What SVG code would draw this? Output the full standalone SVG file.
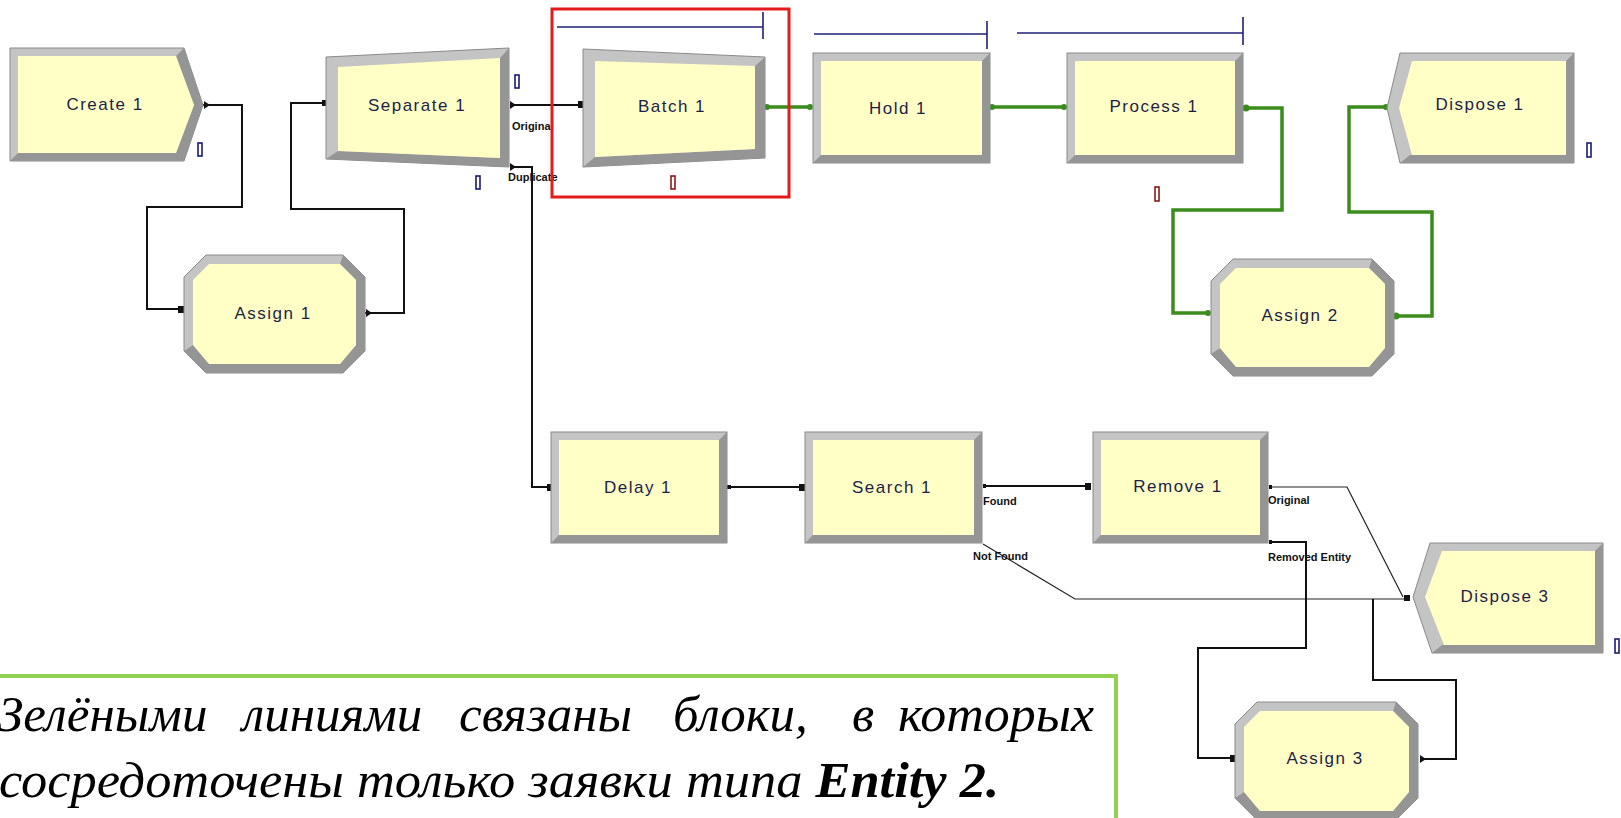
<svg xmlns="http://www.w3.org/2000/svg" width="1621" height="818" viewBox="0 0 1621 818">
<style>
.lt{fill:#c4c4c4;stroke:#8a8a8a;stroke-width:1}
.dk{fill:#959595}
.in{fill:#ffffc6}
.lbl{font-family:"Liberation Sans",Arial,sans-serif;font-size:17px;fill:#1e1e46;text-anchor:middle;letter-spacing:1.5px}
.sm{font-family:"Liberation Sans",Arial,sans-serif;font-size:11px;font-weight:bold;fill:#111}
.cb{fill:none;stroke:#111;stroke-width:2}
.ct{fill:none;stroke:#222;stroke-width:1.2}
.cg{fill:none;stroke:#3a8c1c;stroke-width:3.5}
.pin{fill:#111}
.gpin{fill:#3a8c1c}
.qb{fill:none;stroke:#1a1a7a;stroke-width:1.6}
.qr{fill:none;stroke:#8b1a1a;stroke-width:1.6}
.tl{fill:none;stroke:#1f1f7a;stroke-width:1.6}
.body{font-family:"Liberation Serif","Times New Roman",serif;font-style:italic;font-size:51px;fill:#000}
</style>
<rect x="0" y="0" width="1621" height="818" fill="#fff"/>

<g id="connectors">
  <polyline class="cb" points="203,105 242,105 242,207 147,207 147,309 182,309"/>
  <polyline class="cb" points="365,313 404,313 404,209 291,209 291,103 326,103"/>
  <polyline class="cb" points="510,105 582,105"/>
  <polyline class="cb" points="510,167 532,167 532,487 550,487"/>
  <polyline class="cg" points="765,107 812,107"/>
  <polyline class="cg" points="990,107 1066,107"/>
  <polyline class="cg" points="1244,108 1282,108 1282,210 1173,210 1173,313 1210,313"/>
  <polyline class="cg" points="1394,316 1432,316 1432,212 1349,212 1349,107 1388,107"/>
  <polyline class="cb" points="727,487 802,487"/>
  <polyline class="cb" points="983,486 1088,486"/>
  <polyline class="ct" points="983,544 1075,599 1410,599"/>
  <polyline class="ct" points="1270,487 1347,487 1403,597"/>
  <polyline class="cb" points="1270,542 1306,542 1306,648 1198,648 1198,758 1233,758"/>
  <polyline class="cb" points="1420,759 1456,759 1456,680 1373,680 1373,599"/>
  <path class="pin" d="M204,101 l6,4 l-6,4z"/>
  <rect class="pin" x="178" y="306" width="6" height="7"/>
  <path class="pin" d="M366,309 l6,4 l-6,4z"/>
  <rect class="pin" x="322" y="100" width="5" height="6"/>
  <path class="pin" d="M510,101 l6,4 l-6,4z"/>
  <rect class="pin" x="578" y="101" width="6" height="7"/>
  <path class="pin" d="M510,163 l6,4 l-6,4z"/>
  <rect class="pin" x="547" y="484" width="6" height="7"/>
  <rect class="pin" x="727" y="485" width="4" height="4"/>
  <rect class="pin" x="799" y="484" width="6" height="7"/>
  <rect class="pin" x="983" y="484" width="3" height="4"/>
  <rect class="pin" x="1085" y="483" width="6" height="7"/>
  <rect class="pin" x="1269" y="485" width="3" height="4"/>
  <rect class="pin" x="1269" y="540" width="3" height="4"/>
  <rect class="pin" x="1230" y="755" width="6" height="7"/>
  <path class="pin" d="M1420,755 l6,4 l-6,4z"/>
  <rect class="pin" x="1404" y="595" width="6" height="6"/>
  <ellipse class="gpin" cx="767" cy="107" rx="3" ry="3"/>
  <ellipse class="gpin" cx="810" cy="107" rx="3" ry="3"/>
  <ellipse class="gpin" cx="992" cy="107" rx="3" ry="3"/>
  <ellipse class="gpin" cx="1064" cy="107" rx="3" ry="3"/>
  <ellipse class="gpin" cx="1246" cy="108" rx="3.5" ry="3.5"/>
  <ellipse class="gpin" cx="1208" cy="313" rx="3" ry="3"/>
  <ellipse class="gpin" cx="1396" cy="316" rx="3.5" ry="3.5"/>
  <ellipse class="gpin" cx="1386" cy="107" rx="3" ry="3"/>
  <text class="sm" x="512" y="130">Original</text>
  <text class="sm" x="508" y="181">Duplicate</text>
  <text class="sm" x="983" y="505">Found</text>
  <text class="sm" x="973" y="560">Not Found</text>
  <text class="sm" x="1268" y="504">Original</text>
  <text class="sm" x="1268" y="561">Removed Entity</text>
</g>

<g id="create1">
  <polygon class="lt" points="10,48 184,48 203,105 184,161 10,161"/>
  <polygon class="dk" points="184,48 203,105 184,161 10,161 18,153 176,153 194,105 176,56"/>
  <polygon class="in" points="18,56 176,56 194,105 176,153 18,153"/>
  <text class="lbl" x="105" y="110">Create 1</text>
  <rect class="qb" x="198" y="143" width="4" height="13"/>
</g>

<g id="assign1">
  <polygon class="lt" points="206,255 343,255 365,277 365,351 343,373 206,373 184,351 184,277"/>
  <polygon class="dk" points="343,255 365,277 365,351 343,373 206,373 184,351 193,345 209,364 340,364 356,345 356,280 340,264"/>
  <polygon class="in" points="209,264 340,264 356,280 356,345 340,364 209,364 193,345 193,280"/>
  <text class="lbl" x="273" y="319">Assign 1</text>
</g>

<g id="separate1">
  <polygon class="lt" points="326,57 509,48 509,167 326,159"/>
  <polygon class="dk" points="509,48 509,167 326,159 338,151 500,158 500,58"/>
  <polygon class="in" points="338,67 500,58 500,158 338,151"/>
  <text class="lbl" x="417" y="111">Separate 1</text>
  <rect class="qb" x="515" y="75" width="4" height="13"/>
  <rect class="qb" x="476" y="176" width="4" height="13"/>
</g>

<g id="batch1">
  <rect x="552" y="9" width="237" height="188" fill="none" stroke="#e31b1b" stroke-width="3"/>
  <polyline class="tl" points="557,27 763,27"/>
  <polyline class="tl" points="763,12 763,39"/>
  <polygon class="lt" points="583,49 765,57 765,158 583,167"/>
  <polygon class="dk" points="765,57 765,158 583,167 595,157 755,149 755,66"/>
  <polygon class="in" points="595,61 755,66 755,149 595,157"/>
  <text class="lbl" x="672" y="112">Batch 1</text>
  <rect class="qr" x="671" y="176" width="4" height="13"/>
</g>

<g id="hold1">
  <polyline class="tl" points="814,34 987,34"/>
  <polyline class="tl" points="987,21 987,49"/>
  <rect class="lt" x="813" y="53" width="177" height="110"/>
  <polygon class="dk" points="990,53 990,163 813,163 821,155 982,155 982,61"/>
  <rect class="in" x="821" y="61" width="161" height="94"/>
  <text class="lbl" x="898" y="114">Hold 1</text>
</g>

<g id="process1">
  <polyline class="tl" points="1017,33 1243,33"/>
  <polyline class="tl" points="1243,17 1243,45"/>
  <rect class="lt" x="1067" y="53" width="176" height="110"/>
  <polygon class="dk" points="1243,53 1243,163 1067,163 1075,155 1235,155 1235,61"/>
  <rect class="in" x="1075" y="61" width="160" height="94"/>
  <text class="lbl" x="1154" y="112">Process 1</text>
  <rect class="qr" x="1155" y="187" width="4" height="14"/>
</g>

<g id="assign2">
  <polygon class="lt" points="1233,259 1372,259 1394,281 1394,354 1372,376 1233,376 1211,354 1211,281"/>
  <polygon class="dk" points="1372,259 1394,281 1394,354 1372,376 1233,376 1211,354 1220,348 1236,367 1369,367 1385,348 1385,284 1369,268"/>
  <polygon class="in" points="1236,268 1369,268 1385,284 1385,348 1369,367 1236,367 1220,348 1220,284"/>
  <text class="lbl" x="1300" y="321">Assign 2</text>
</g>

<g id="dispose1">
  <polygon class="lt" points="1400,53 1574,53 1574,163 1400,163 1387,108"/>
  <polygon class="dk" points="1574,53 1574,163 1400,163 1410,155 1566,155 1566,61"/>
  <polygon class="in" points="1412,61 1566,61 1566,155 1412,155 1399,108"/>
  <text class="lbl" x="1480" y="110">Dispose 1</text>
  <rect class="qb" x="1587" y="143" width="4" height="14"/>
</g>

<g id="delay1">
  <rect class="lt" x="551" y="432" width="176" height="111"/>
  <polygon class="dk" points="727,432 727,543 551,543 559,535 719,535 719,440"/>
  <rect class="in" x="559" y="440" width="160" height="95"/>
  <text class="lbl" x="638" y="493">Delay 1</text>
</g>

<g id="search1">
  <rect class="lt" x="805" y="432" width="177" height="111"/>
  <polygon class="dk" points="982,432 982,543 805,543 813,535 974,535 974,440"/>
  <rect class="in" x="813" y="440" width="161" height="95"/>
  <text class="lbl" x="892" y="493">Search 1</text>
</g>

<g id="remove1">
  <rect class="lt" x="1093" y="432" width="175" height="111"/>
  <polygon class="dk" points="1268,432 1268,543 1093,543 1101,535 1260,535 1260,440"/>
  <rect class="in" x="1101" y="440" width="159" height="95"/>
  <text class="lbl" x="1178" y="492">Remove 1</text>
</g>

<g id="dispose3">
  <polygon class="lt" points="1430,543 1603,543 1603,653 1432,653 1413,597"/>
  <polygon class="dk" points="1603,543 1603,653 1432,653 1442,645 1595,645 1595,551"/>
  <polygon class="in" points="1442,551 1595,551 1595,645 1444,645 1425,597"/>
  <text class="lbl" x="1505" y="602">Dispose 3</text>
  <rect class="qb" x="1615" y="639" width="4" height="14"/>
</g>

<g id="assign3">
  <polygon class="lt" points="1257,702 1396,702 1418,724 1418,798 1396,820 1257,820 1235,798 1235,724"/>
  <polygon class="dk" points="1396,702 1418,724 1418,798 1396,820 1257,820 1235,798 1244,792 1260,811 1393,811 1409,792 1409,727 1393,711"/>
  <polygon class="in" points="1260,711 1393,711 1409,727 1409,792 1393,811 1260,811 1244,792 1244,727"/>
  <text class="lbl" x="1325" y="764">Assign 3</text>
</g>

<g id="note">
  <rect x="-10" y="676" width="1126" height="160" fill="#fff" stroke="#92d050" stroke-width="4"/>
  <text class="body" x="-2" y="731">Зелёными</text>
  <text class="body" x="242" y="731">линиями</text>
  <text class="body" x="459" y="731">связаны</text>
  <text class="body" x="673" y="731">блоки,</text>
  <text class="body" x="852" y="731">в</text>
  <text class="body" x="898" y="731" textLength="196" lengthAdjust="spacingAndGlyphs">которых</text>
  <text class="body" x="-1" y="797" textLength="1000" lengthAdjust="spacingAndGlyphs">сосредоточены только заявки типа <tspan font-weight="bold">Entity 2.</tspan></text>
</g>
</svg>
